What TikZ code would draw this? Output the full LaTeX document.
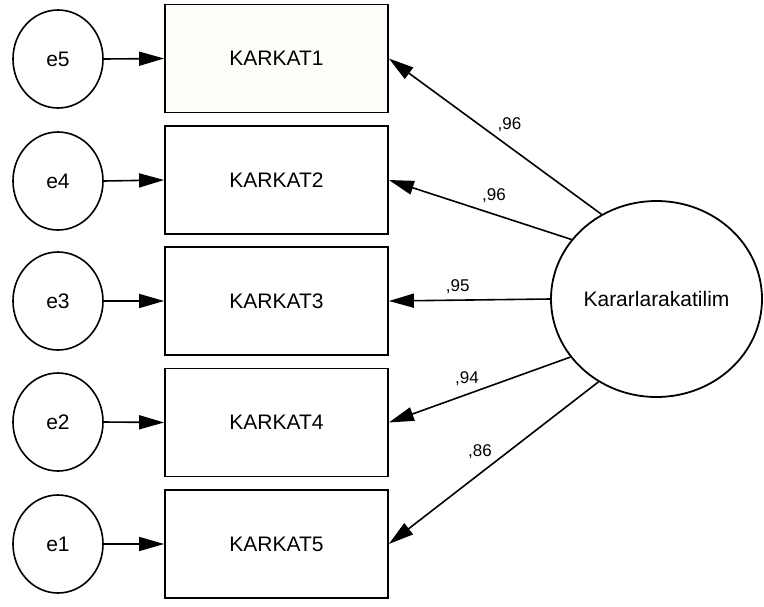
\documentclass[tikz,border=0pt]{standalone}
\usepackage{fontspec}
\setmainfont{Liberation Sans}
\usetikzlibrary{shapes.geometric,arrows.meta}
\definecolor{boxcream}{RGB}{253,253,249}
\begin{document}
\begin{tikzpicture}[x=1pt,y=-1pt,
  err/.style={draw,ellipse,line width=1.6pt,minimum width=90pt,minimum height=98pt,inner sep=0pt,font=\fontsize{21}{24}\selectfont},
  obs/.style={draw,rectangle,line width=1.8pt,minimum width=223pt,minimum height=108pt,inner sep=0pt,font=\fontsize{21}{24}\selectfont},
  lat/.style={draw,ellipse,line width=1.8pt,minimum width=211pt,minimum height=196pt,inner sep=0pt,font=\fontsize{21}{24}\selectfont},
  arr/.style={line width=1.6pt,-{Triangle[length=25pt,width=14pt]}},
  lbl/.style={font=\fontsize{17}{20}\selectfont,anchor=base,inner sep=0pt}]
\useasboundingbox (0,0) rectangle (764,606);
% error terms
\node[err] (e5) at (58,59) {e5};
\node[err] (e4) at (58,181) {e4};
\node[err] (e3) at (58,301) {e3};
\node[err] (e2) at (58,422) {e2};
\node[err] (e1) at (58,544) {e1};
% observed variables
\node[obs,fill=boxcream] (b1) at (276.5,58.5) {KARKAT1};
\node[obs] (b2) at (276.5,180) {KARKAT2};
\node[obs] (b3) at (276.5,301) {KARKAT3};
\node[obs] (b4) at (276.5,422.5) {KARKAT4};
\node[obs] (b5) at (276.5,544) {KARKAT5};
% latent
\node[lat] (L) at (656.5,299) {Kararlarakatilim};
% error arrows
\draw[arr] (e5.east) -- (b1.west);
\draw[arr] (e4.east) -- (b2.west);
\draw[arr] (e3.east) -- (b3.west);
\draw[arr] (e2.east) -- (b4.west);
\draw[arr] (e1.east) -- (b5.west);
% loadings
\draw[arr] (L.123.9) -- (b1.east);
\draw[arr] (L.145.7) -- (b2.east);
\draw[arr] (L.180) -- (b3.east);
\draw[arr] (L.214.9) -- (b4.east);
\draw[arr] (L.235.6) -- (b5.east);
% labels
\node[lbl] (l1) at (509.5,129) {,96};
\node[lbl] (l2) at (494,200.5) {,96};
\node[lbl] (l3) at (457.7,291) {,95};
\node[lbl] (l4) at (467,383) {,94};
\node[lbl] (l5) at (480,456) {,86};
\end{tikzpicture}
\end{document}
